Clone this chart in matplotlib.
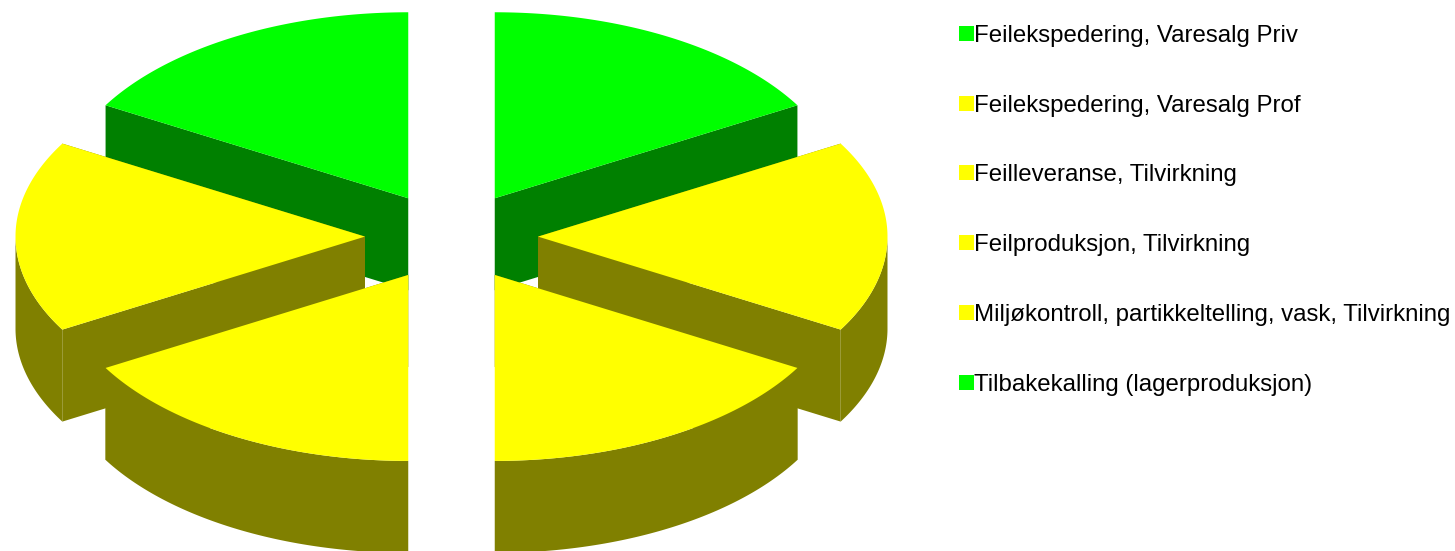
#!/usr/bin/env python3
"""Exploded 3D-look pie chart with a plain square-marker legend."""
import numpy as np
import matplotlib
matplotlib.use("Agg")
import matplotlib.pyplot as plt
from matplotlib.patches import Polygon, Rectangle

categories = [
    "Feilekspedering, Varesalg Priv",
    "Feilekspedering, Varesalg Prof",
    "Feilleveranse, Tilvirkning",
    "Feilproduksjon, Tilvirkning",
    "Miljøkontroll, partikkeltelling, vask, Tilvirkning",
    "Tilbakekalling (lagerproduksjon)",
]
values = [1, 1, 1, 1, 1, 1]
top_colors = ["#00ff00", "#ffff00", "#ffff00", "#ffff00", "#ffff00", "#00ff00"]
side_colors = ["#008000", "#808000", "#808000", "#808000", "#808000", "#008000"]

CX, CY = 451.5, 236.6
RX, RY = 349.5, 186.0
DEPTH = 92.0
EXPLODE_X = 0.2475
EXPLODE_Y = 0.238


def arc(cx, cy, a0, a1, n=80):
    t = np.linspace(a0, a1, n)
    return np.column_stack([cx + RX * np.cos(t), cy - RY * np.sin(t)])


def draw_slice(ax, a0, a1, top, side):
    mid = (a0 + a1) / 2
    x = CX + EXPLODE_X * RX * np.cos(mid)
    y = CY - EXPLODE_Y * RY * np.sin(mid)
    rim = arc(x, y, a0, a1)
    drop = np.array([0, DEPTH])
    apex = np.array([x, y])
    for p in (rim[0], rim[-1]):
        ax.add_patch(Polygon([apex, p, p + drop, apex + drop], fc=side, lw=0))
    # outer wall only shows on the front half of the ellipse
    front = np.sin(np.linspace(a0, a1, 80)) <= 0
    if front.sum() > 1:
        wall = rim[front]
        ax.add_patch(Polygon(np.vstack([wall, (wall + drop)[::-1]]), fc=side, lw=0))
    ax.add_patch(Polygon(np.vstack([apex, rim]), fc=top, lw=0))


fig = plt.figure(figsize=(14.55, 5.51), dpi=100)
ax = fig.add_axes([0, 0, 1, 1])
ax.set_xlim(0, 1455)
ax.set_ylim(551, 0)
ax.axis("off")

# clockwise from 12 o'clock
edges = np.pi / 2 - 2 * np.pi * np.cumsum([0] + values) / sum(values)
slices = []
for i in range(len(values)):
    slices.append((edges[i], edges[i + 1], top_colors[i], side_colors[i]))
# back slices first
slices.sort(key=lambda s: -np.sin((s[0] + s[1]) / 2))
for a0, a1, top, side in slices:
    draw_slice(ax, a0, a1, top, side)

for i, name in enumerate(categories):
    y = 33.5 + i * 69.7
    ax.add_patch(Rectangle((959, y - 7.5), 15, 15, fc=top_colors[i], lw=0))
    ax.text(974, y, name, family="Liberation Sans", fontsize=17.3,
            color="black", va="center_baseline", ha="left")

fig.savefig("out.png", dpi=100)
